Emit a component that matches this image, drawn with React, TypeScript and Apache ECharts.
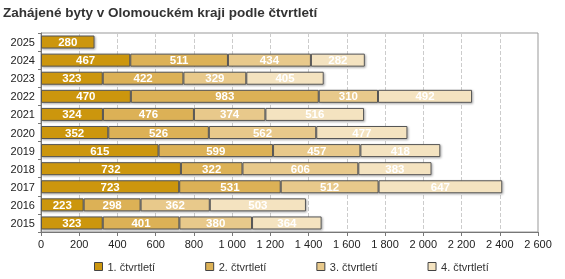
import React, { useEffect, useRef } from "react";
import * as echarts from "echarts";

const title = "Zahájené byty v Olomouckém kraji podle čtvrtletí";
const years = ["2015", "2016", "2017", "2018", "2019", "2020", "2021", "2022", "2023", "2024", "2025"];
const seriesNames = ["1. čtvrtletí", "2. čtvrtletí", "3. čtvrtletí", "4. čtvrtletí"];
const q1 = [323, 223, 723, 732, 615, 352, 324, 470, 323, 467, 280];
const q2 = [401, 298, 531, 322, 599, 526, 476, 983, 422, 511, null];
const q3 = [380, 362, 512, 606, 457, 562, 374, 310, 329, 434, null];
const q4 = [364, 503, 647, 383, 418, 477, 516, 492, 405, 282, null];
const colors = ["#cc960f", "#dcb156", "#e8c98b", "#f4e3c0"];

const fmt = (v: number) => String(v).replace(/\B(?=(\d{3})+(?!\d))/g, " ");
const FONT = "'Liberation Sans', Arial, sans-serif";

export default function App() {
  const ref = useRef<HTMLDivElement>(null);
  useEffect(() => {
    if (!ref.current) return;
    const chart = echarts.init(ref.current, null, { renderer: "svg" });
    const data = [q1, q2, q3, q4];
    chart.setOption({
      animation: false,
      textStyle: { fontFamily: FONT },
      title: {
        text: title,
        left: 3,
        top: 5,
        padding: 0,
        textStyle: { fontSize: 13.5, fontWeight: "bold", color: "#333", fontFamily: FONT },
      },
      legend: {
        bottom: 2,
        left: 89,
        itemWidth: 8,
        itemHeight: 8,
        itemGap: 50,
        icon: "rect",
        textStyle: { fontSize: 11, color: "#333", fontFamily: FONT },
        data: seriesNames.map((n) => ({ name: n, itemStyle: { borderColor: "#444", borderWidth: 1 } })),
      },
      grid: {
        left: 41,
        right: 27,
        top: 33,
        bottom: 47,
        show: true,
        borderColor: "#999",
        borderWidth: 1,
      },
      xAxis: {
        type: "value",
        min: 0,
        max: 2600,
        interval: 200,
        axisLine: { show: true, lineStyle: { color: "#777" } },
        axisTick: { show: true, length: 4, lineStyle: { color: "#777" } },
        axisLabel: { formatter: fmt, fontSize: 11, color: "#222", margin: 6, fontFamily: FONT },
        splitLine: { show: true, lineStyle: { color: "#ccc", type: "dashed" } },
      },
      yAxis: {
        type: "category",
        data: years,
        axisLine: { show: true, lineStyle: { color: "#777" } },
        axisTick: { show: true, length: 3, lineStyle: { color: "#777" } },
        axisLabel: { fontSize: 11, color: "#222", margin: 6, fontFamily: FONT },
      },
      series: data.map((d, i) => ({
        name: seriesNames[i],
        type: "bar",
        stack: "total",
        barWidth: 13,
        data: d,
        itemStyle: {
          color: colors[i],
          borderColor: "#555",
          borderWidth: 1,
          shadowColor: "rgba(0,0,0,0.35)",
          shadowBlur: 2,
          shadowOffsetX: 1,
          shadowOffsetY: 1,
        },
        label: {
          show: true,
          position: "inside",
          color: "#fff",
          fontWeight: "bold",
          fontSize: 11.5,
          fontFamily: FONT,
        },
      })),
    });
    return () => chart.dispose();
  }, []);
  return <div ref={ref} style={{ width: 565, height: 279, position: "fixed", left: 0, top: 0 }} />;
}
